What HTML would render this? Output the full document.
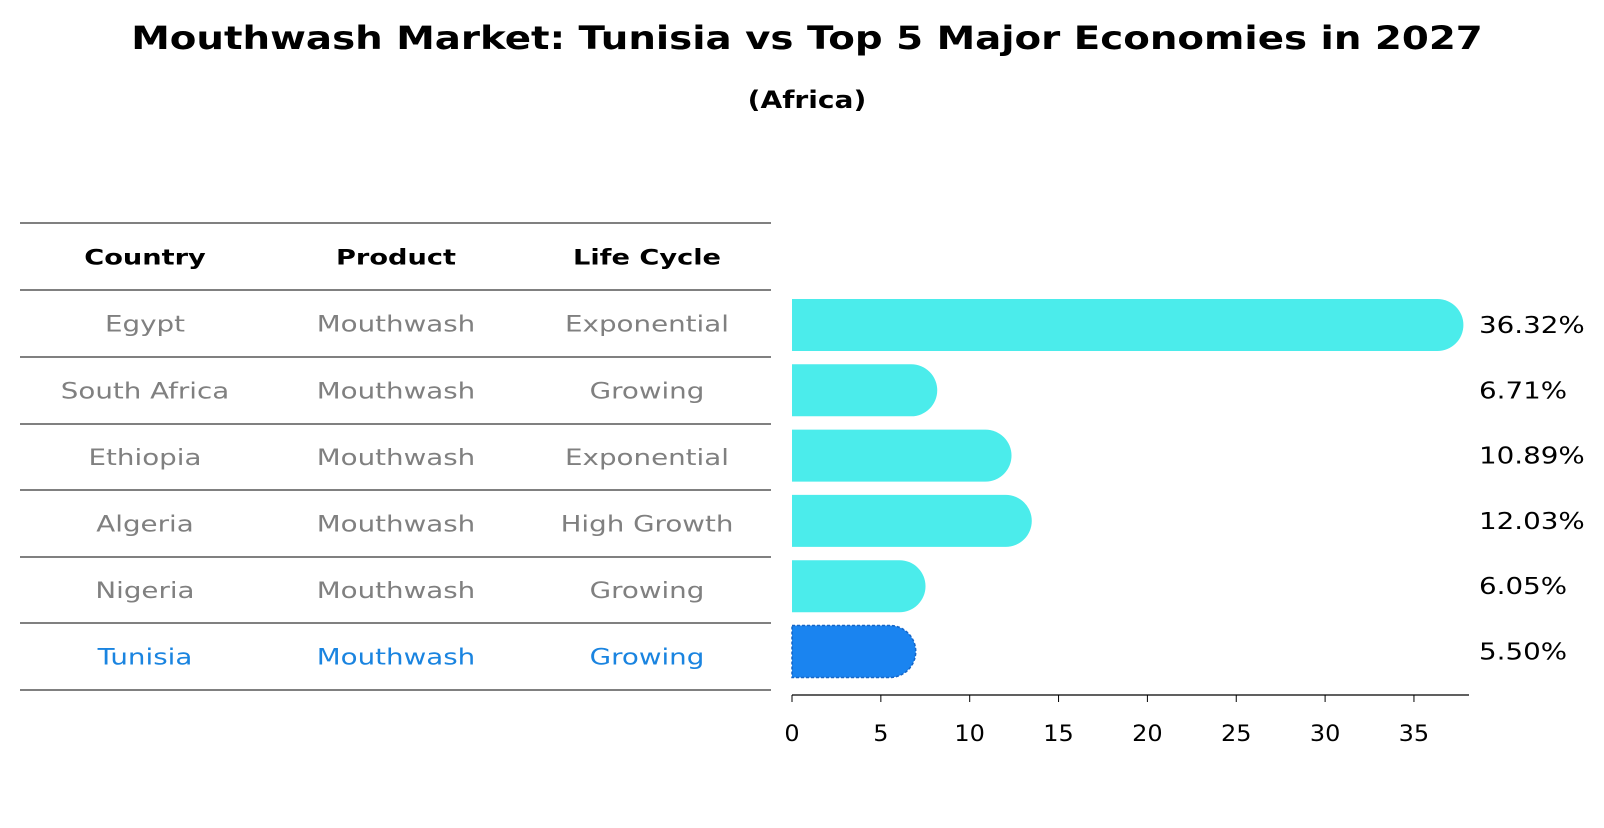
<!DOCTYPE html>
<html><head><meta charset="utf-8"><style>
body{margin:0;background:#fff;}
svg text{font-family:"DejaVu Sans","Liberation Sans",sans-serif;}
</style></head><body>
<svg width="1604" height="823" viewBox="0 0 1604 823" xmlns="http://www.w3.org/2000/svg">
<text id="title" x="807" y="49" text-anchor="middle" font-size="32" font-weight="bold">Mouthwash Market: Tunisia vs Top 5 Major Economies in 2027</text>
<text id="subtitle" x="807" y="108" text-anchor="middle" font-size="24" font-weight="bold">(Africa)</text>
<g id="table"></g>
<g id="bars"></g>
</svg>
<script>
const countries=["Egypt","South Africa","Ethiopia","Algeria","Nigeria","Tunisia"];
const products=["Mouthwash","Mouthwash","Mouthwash","Mouthwash","Mouthwash","Mouthwash"];
const lifeCycles=["Exponential","Growing","Exponential","High Growth","Growing","Growing"];
const values=[36.32,6.71,10.89,12.03,6.05,5.50];
const valueLabels=["36.32%","6.71%","10.89%","12.03%","6.05%","5.50%"];
const xTicks=[0,5,10,15,20,25,30,35];
const highlight="Tunisia";

const NS="http://www.w3.org/2000/svg";
function mk(tag,attrs,parent){const e=document.createElementNS(NS,tag);for(const k in attrs)e.setAttribute(k,attrs[k]);parent.appendChild(e);return e;}
function stretch(t,f){const w=t.getComputedTextLength();if(w>0){t.setAttribute('textLength',(w*f).toFixed(1));t.setAttribute('lengthAdjust','spacingAndGlyphs');}}
const table=document.getElementById('table');
const bars=document.getElementById('bars');
stretch(document.getElementById('title'),1.55*25/32);
stretch(document.getElementById('subtitle'),1.65*17/24);
const lineYs=[223,290,357,424,490,557,623,690];
function rowMid(i){return (lineYs[i]+lineYs[i+1])/2;}
const colX=[145,396,647];
lineYs.forEach((y,i)=>{const l=mk('line',{x1:20,x2:771,y1:y,y2:y,stroke:'#000','stroke-width':1},table);

});
["Country","Product","Life Cycle"].forEach((h,j)=>{const t=mk('text',{x:colX[j],y:rowMid(0)+8,'text-anchor':'middle','font-size':21,'font-weight':'bold'},table);t.textContent=h;


stretch(t,1.6*17/21);});
countries.forEach((c,i)=>{const col=c===highlight?'#1a84e0':'#808080';
[c,products[i],lifeCycles[i]].forEach((v,j)=>{const t=mk('text',{x:colX[j],y:rowMid(i+1)+8,'text-anchor':'middle','font-size':22,fill:col},table);t.textContent=v;


stretch(t,1.63*17/22);});});

const x0=792,pxPer=17.77,barH=52,yTop0=299,step=65.3,r=26;
function xs(v){return x0+v*pxPer;}
values.forEach((v,i)=>{const y=yTop0+i*step;const xe=xs(v);const hi=countries[i]===highlight;
const fill=hi?'#1a84f0':'#4beceb';
const p=mk('path',{d:`M${x0},${y} L${xe},${y} A${r},${barH/2} 0 0 1 ${xe},${y+barH} L${x0},${y+barH} Z`,fill:fill},bars);
if(hi){p.setAttribute('stroke','#1566c8');p.setAttribute('stroke-dasharray','3,2');p.setAttribute('stroke-width','1.5');}


const t=mk('text',{x:1479,y:y+barH/2+8,'font-size':23},bars);t.textContent=valueLabels[i];


stretch(t,1.46*19/23);});
const ax=mk('line',{x1:x0,x2:1469,y1:695,y2:695,stroke:'#000','stroke-width':1.2},bars);


xTicks.forEach(v=>{const tk=mk('line',{x1:xs(v),x2:xs(v),y1:695,y2:702,stroke:'#000','stroke-width':1},bars);


const t=mk('text',{x:xs(v),y:741,'text-anchor':'middle','font-size':22},bars);t.textContent=v;


stretch(t,1.33*18/22);});
</script>
</body></html>
